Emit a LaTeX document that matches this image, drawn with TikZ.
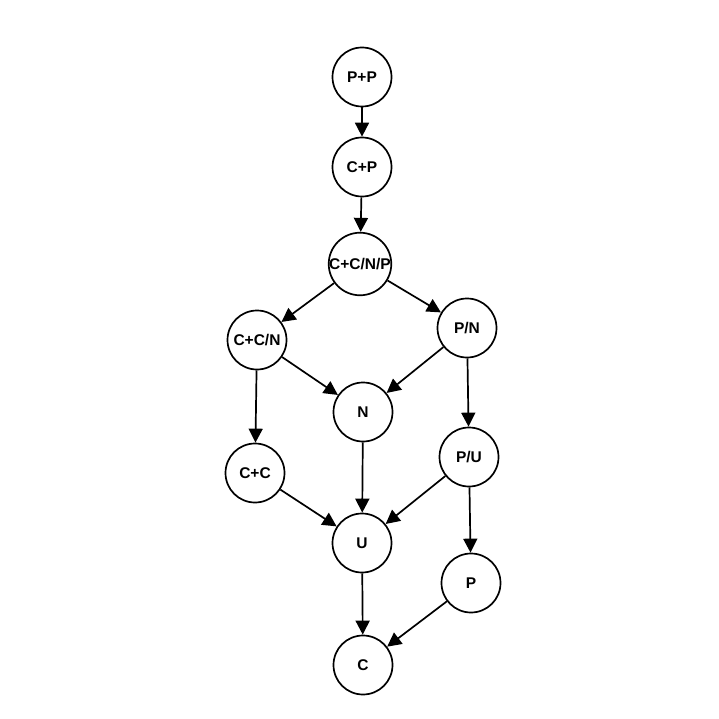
\documentclass[tikz,border=0pt]{standalone}
\usepackage{fontspec}
\setmainfont{Liberation Sans}
\usepackage{tikz}
\usetikzlibrary{arrows.meta}
\usetikzlibrary{positioning}

\begin{document}
\begin{tikzpicture}
  [x=1pt,y=-1pt,
  state/.style={circle,draw=black,line width=1.7pt,fill=white,inner sep=0pt,minimum size=59pt,font=\bfseries\fontsize{15.5}{16}\selectfont},
  edge/.style={-{Triangle[length=14pt,width=14pt]},black,line width=1.7pt}]
  \useasboundingbox (0,0) rectangle (719,719);
  \node[state] (pp) at (362,77) {P+P};
  \node[state] (cp) at (362,167) {C+P};
  \node[state] (ccnp) at (360,264) {C+C/N/P};
  
  \node[state] (ccn) at (257,340) {C+C/N};
  \node[state] (pn) at (467,328) {P/N};
  \node[state] (n) at (363,412) {N};
  
  \node[state] (cc) at (255,473) {C+C};
  \node[state] (pu) at (469,457) {P/U};
  \node[state] (u) at (362,543) {U};
  
  \node[state] (p) at (471,583) {P};
  \node[state] (c) at (363,665) {C};
  
  \draw [edge] (pp) -- (cp);
  \draw [edge] (cp) -- (ccnp);
  
  \draw [edge] (ccnp) -- (ccn);
  \draw [edge] (ccnp) -- (pn);
  
  \draw [edge] (ccn) -- (n);
  \draw [edge] (ccn) -- (cc);
  \draw [edge] (pn) -- (n);
  \draw [edge] (pn) -- (pu);
  
  \draw [edge] (n) -- (u);
  \draw [edge] (cc) -- (u);
  \draw [edge] (pu) -- (u);
  \draw [edge] (pu) -- (p);
  
  \draw [edge] (u) -- (c);
  \draw [edge] (p) -- (c);
  
  \end{tikzpicture}
\end{document}
